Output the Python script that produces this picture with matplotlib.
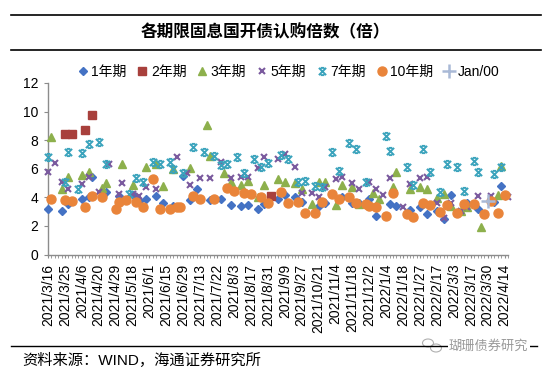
import matplotlib
matplotlib.use('Agg')
import matplotlib.pyplot as plt
from matplotlib.path import Path
from matplotlib.lines import Line2D
from matplotlib.patches import Ellipse

plt.rcParams['font.family'] = ['Liberation Sans', 'Noto Sans CJK SC']

# category axis: 137 issue dates, every 5th one is labelled
n_cat = 137
tick_labels = ['2021/3/16', '2021/3/25', '2021/4/6', '2021/4/20', '2021/4/29', '2021/5/18',
               '2021/6/1', '2021/6/15', '2021/6/29', '2021/7/13', '2021/7/22', '2021/8/3',
               '2021/8/17', '2021/8/31', '2021/9/9', '2021/9/27', '2021/10/21', '2021/11/4',
               '2021/11/18', '2021/12/2', '2022/1/4', '2022/1/18', '2022/1/27', '2022/2/17',
               '2022/3/3', '2022/3/17', '2022/3/30', '2022/4/14']

# 1年期
i1 = [0, 4, 6, 10, 12, 13, 17, 21, 25, 27, 29, 32, 34, 37, 40, 42, 44, 48, 51, 54,
      57, 59, 62, 64, 68, 70, 73, 75, 80, 82, 87, 90, 92, 95, 97, 101, 103, 107, 110, 112,
      115, 117, 119, 124, 127, 132, 134]
v1 = [3.15, 3.05, 3.5, 3.85, 4.0, 5.4, 4.4, 4.1, 4.15, 3.75, 3.85, 4.1, 3.6, 3.4, 5.5, 3.8, 4.6, 3.8, 3.9, 3.45,
      3.4, 3.45, 3.15, 3.5, 3.85, 4.15, 4.05, 3.7, 3.4, 3.6, 4.0, 3.6, 3.6, 3.9, 2.7, 3.5, 3.4, 3.1, 3.3, 2.8,
      3.05, 2.5, 4.15, 3.6, 3.15, 3.65, 4.8]
# 2年期
i2 = [5, 7, 11, 13, 66]
v2 = [8.45, 8.4, 8.7, 9.75, 4.1]
# 3年期
i3 = [1, 4, 6, 10, 12, 16, 17, 22, 25, 29, 32, 34, 37, 42, 47, 48, 52, 54, 57, 59,
      62, 64, 68, 70, 73, 75, 78, 80, 82, 85, 87, 90, 92, 96, 98, 102, 103, 107, 110, 112,
      115, 117, 119, 122, 124, 128, 133, 134]
v3 = [8.2, 4.6, 5.45, 5.55, 5.75, 4.65, 5.0, 6.3, 4.85, 6.1, 6.35, 4.8, 6.0, 6.05, 9.05, 6.9, 5.7, 5.05, 4.85, 5.15,
      4.05, 4.85, 5.3, 5.1, 5.0, 4.6, 3.5, 5.1, 5.1, 3.45, 4.85, 4.7, 3.5, 4.3, 3.85, 4.75, 5.8, 4.55, 4.7, 4.6,
      3.95, 4.2, 3.4, 3.05, 3.3, 1.9, 4.15, 6.2]
# 5年期
i5 = [0, 2, 4, 6, 10, 12, 15, 18, 21, 22, 25, 27, 29, 32, 38, 41, 42, 45, 48, 51,
      54, 57, 59, 62, 64, 68, 70, 73, 75, 78, 80, 82, 85, 87, 90, 92, 95, 97, 99, 101,
      105, 107, 110, 112, 115, 117, 119, 122, 124, 127, 131, 136]
v5 = [5.75, 6.4, 5.05, 4.55, 4.9, 5.4, 4.35, 6.35, 4.2, 5.0, 4.2, 4.1, 4.7, 4.6, 6.8, 5.7, 4.85, 5.35, 5.35, 6.45,
      5.35, 5.4, 5.4, 6.05, 6.85, 6.7, 7.0, 6.15, 4.3, 4.3, 4.0, 4.75, 5.25, 5.45, 5.0, 4.6, 5.05, 4.55, 4.15, 5.35,
      3.3, 4.9, 5.35, 5.45, 3.6, 2.55, 3.6, 3.05, 3.3, 4.1, 4.1, 4.0]
# 7年期
i7 = [0, 5, 6, 9, 10, 12, 15, 17, 24, 26, 28, 31, 33, 36, 37, 40, 43, 46, 49, 51,
      53, 56, 58, 61, 63, 65, 69, 71, 74, 76, 79, 81, 84, 86, 89, 91, 94, 100, 101, 106,
      108, 111, 113, 116, 118, 121, 123, 126, 127, 132, 134]
v7 = [6.85, 5.05, 7.2, 4.55, 7.1, 7.75, 7.9, 6.3, 4.2, 5.35, 5.1, 6.5, 6.3, 6.45, 6.0, 5.7, 7.55, 7.15, 6.9, 6.25,
      6.3, 6.85, 5.7, 6.7, 6.1, 6.4, 6.95, 6.7, 5.1, 5.15, 4.8, 4.75, 7.15, 5.85, 7.8, 7.35, 5.1, 8.3, 7.25, 6.15,
      4.85, 7.35, 5.75, 4.35, 6.35, 6.15, 4.45, 6.55, 5.75, 5.65, 6.15]
# 10年期
i10 = [1, 5, 7, 11, 13, 16, 20, 21, 23, 26, 28, 31, 33, 36, 38, 39, 43, 45, 49, 53,
       55, 58, 60, 63, 65, 69, 71, 74, 76, 79, 81, 84, 86, 89, 91, 94, 95, 97, 100, 102,
       106, 108, 111, 113, 116, 118, 121, 123, 126, 129, 131, 133, 135]
v10 = [3.85, 3.8, 3.75, 3.35, 4.1, 4.05, 3.2, 3.65, 3.8, 3.7, 3.35, 5.25, 3.2, 3.2, 3.35, 3.35, 4.1, 3.9, 3.9, 4.65,
       4.45, 4.3, 4.2, 4.05, 3.6, 4.4, 3.6, 3.65, 2.9, 2.9, 3.65, 4.2, 3.85, 4.05, 3.6, 3.5, 3.4, 3.3, 2.7, 4.3,
       2.8, 2.6, 3.6, 3.45, 2.95, 3.45, 2.9, 3.55, 3.5, 2.85, 3.75, 2.9, 4.15]
# Jan/00
ip = [130]
vp = [3.77]

# excel-like "star" marker: x with caps
star = Path([(-1, -1), (1, 1), (-1, 1), (1, -1), (-0.5, 1), (0.5, 1), (-0.5, -1), (0.5, -1)],
            [Path.MOVETO, Path.LINETO] * 4)

fig = plt.figure(figsize=(5.44, 3.74), dpi=100)
ax = fig.add_axes([48 / 544, 1 - 254.5 / 374, 460 / 544, 171.5 / 374])

kw = dict(linestyle='none', clip_on=False)
ax.plot(i1, v1, marker='D', ms=4.0, color='#4472C4', mec='#4472C4', label='1年期', zorder=3, **kw)
ax.plot(i2, v2, marker='s', ms=5.5, color='#A8403C', label='2年期', zorder=3, **kw)
ax.plot(i3, v3, marker='^', ms=6.0, color='#8DB04C', label='3年期', zorder=3, **kw)
ax.plot(i5, v5, marker='x', ms=4.5, mew=1.5, color='#7A5A9E', label='5年期', zorder=3, **kw)
ax.plot(i7, v7, marker=star, ms=5.2, mew=1.4, mfc='none', color='#3AA3BC', label='7年期', zorder=3, **kw)
ax.plot(i10, v10, marker='o', ms=6.5, color='#E9843A', mec='#E9843A', label='10年期', zorder=3, **kw)
ax.plot(ip, vp, marker='+', ms=10, mew=1.8, color='#A9B9D6', label='Jan/00', zorder=3, **kw)

ax.set_xlim(0, n_cat - 1)
ax.set_ylim(0, 12)
ax.set_yticks(range(0, 13, 2))
ax.set_xticks(range(0, n_cat, 5))
ax.set_xticklabels(tick_labels, rotation=90)
ax.set_xticks(range(n_cat), minor=True)

for s in ['top', 'right']:
    ax.spines[s].set_visible(False)
for s in ['left', 'bottom']:
    ax.spines[s].set_color('#8c8c8c')
    ax.spines[s].set_linewidth(1.0)
ax.tick_params(axis='y', length=3, color='#8c8c8c', labelsize=10, pad=4)
ax.tick_params(axis='x', which='both', length=2.5, color='#8c8c8c', labelsize=10, pad=4)

fig.legend(loc='center', bbox_to_anchor=(289 / 544, 1 - 72 / 374), ncol=7, frameon=False,
           fontsize=10, handlelength=0.6, handletextpad=0.3, columnspacing=0.85, borderpad=0)

# title block
for yy in [15, 50]:
    fig.add_artist(Line2D([11 / 544, 541 / 544], [1 - yy / 374] * 2, color='black', lw=1.2))
fig.text(265 / 544, 1 - 32 / 374, '各期限固息国开债认购倍数（倍）', ha='center', va='center',
         fontsize=12, fontweight='bold', family=['Noto Sans CJK SC'])

# footer
fig.add_artist(Line2D([11 / 544, 537 / 544], [1 - 346 / 374] * 2, color='black', lw=1.0))
fig.text(22 / 544, 1 - 360 / 374, '资料来源：WIND，海通证券研究所', ha='left', va='center', fontsize=11)

# watermark
fig.text(449 / 544, 1 - 346 / 374, '瑚珊债券研究', ha='left', va='center', fontsize=9.5,
         color='#9a9a9a', family=['Noto Sans CJK SC'],
         bbox=dict(facecolor='white', edgecolor='none', pad=1))
fig.add_artist(Ellipse((428 / 544, 1 - 343 / 374), 11 / 544, 8 / 374, fill=False, ec='#b0b0b0', lw=0.8))
fig.add_artist(Ellipse((436 / 544, 1 - 348 / 374), 11 / 544, 8 / 374, fill=False, ec='#b0b0b0', lw=0.8,
                       fc='white'))

fig.savefig('out.png', dpi=100)
